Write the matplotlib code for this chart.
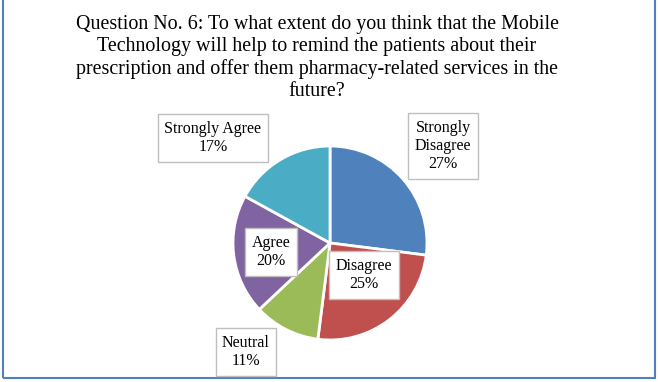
import matplotlib.pyplot as plt
from matplotlib.patches import Rectangle

# data
categories = ['Strongly Disagree', 'Disagree', 'Neutral', 'Agree', 'Strongly Agree']
percents = [27, 25, 11, 20, 17]
colors = ['#4F81BD', '#C0504D', '#9BBB59', '#8064A2', '#4BACC6']
title = ("Question No. 6: To what extent do you think that the Mobile\n"
         "Technology will help to remind the patients about their\n"
         "prescription and offer them pharmacy-related services in the\n"
         "future?")

W, H = 658, 382
plt.rcParams['font.family'] = ['Liberation Serif', 'DejaVu Serif']

fig = plt.figure(figsize=(W / 100, H / 100), dpi=100)
ax = fig.add_axes([0, 0, 1, 1])
ax.set_xlim(0, W)
ax.set_ylim(0, H)
ax.set_aspect('equal')
ax.axis('off')

# outer chart border (top edge outside the picture)
ax.add_patch(Rectangle((3, H - 378), 652, 400, fill=False,
                       edgecolor='#4F7FBF', linewidth=1.5))

cx, cy, r = 330, H - 243, 97
wedges, _ = ax.pie(percents, colors=colors, startangle=90, counterclock=False,
                   center=(cx, cy), radius=r,
                   wedgeprops=dict(edgecolor='white', linewidth=2))
ax.set_xlim(0, W)
ax.set_ylim(0, H)

# label positions in pixels (layout)
label_pos = {
    'Strongly Disagree': (443, 146),
    'Disagree': (364, 275),
    'Neutral': (246, 352),
    'Agree': (271, 252),
    'Strongly Agree': (213, 138),
}
for cat, p in zip(categories, percents):
    x, y = label_pos[cat]
    txt = cat
    if cat == 'Strongly Disagree':
        txt = 'Strongly\nDisagree'
    ax.text(x, H - y, f"{txt}\n{p}%", ha='center', va='center', fontsize=11.5,
            linespacing=1.2,
            bbox=dict(boxstyle='square,pad=0.4', facecolor='white',
                      edgecolor='#BFBFBF', linewidth=1))

ax.text(317, H - 58, title, ha='center', va='center', fontsize=14.4,
        linespacing=1.23)

fig.savefig('out.png', dpi=100)
